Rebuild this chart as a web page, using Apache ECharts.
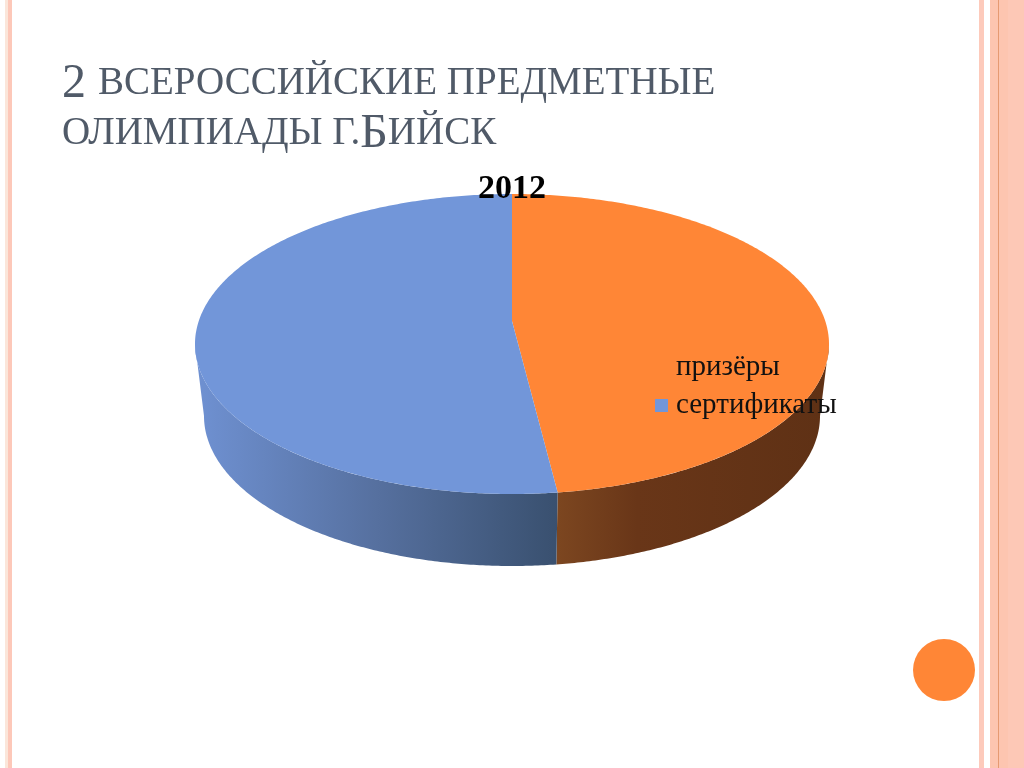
<!DOCTYPE html>
<html><head><meta charset="utf-8">
<style>html,body{margin:0;padding:0;background:#fff}#c{width:1024px;height:768px}</style>
<script src="https://cdn.jsdelivr.net/npm/echarts@6/dist/echarts.min.js"></script>
</head><body><div id="c"></div>
<script>
const categories = ['призёры', 'сертификаты'];
const values = [47.7, 52.3];
const colors = ['#ff8636', '#7296d9'];
const chartTitle = '2012';

const total = values.reduce((a, b) => a + b, 0);
const T = { cx: 512, cy: 344, rx: 317, ry: 150, hubY: 321 };
const B = { cx: 512, cy: 416, rx: 308, ry: 150 };
const pt = (e, t) => [e.cx + e.rx * Math.sin(t), e.cy - e.ry * Math.cos(t)];
function arc(e, a, b) {
  const n = Math.max(2, Math.ceil(Math.abs(b - a) / 0.01));
  const out = [];
  for (let i = 0; i <= n; i++) out.push(pt(e, a + (b - a) * i / n));
  return out;
}
const wallFill = [
  new echarts.graphic.LinearGradient(558, 0, 822, 0, [
    { offset: 0, color: '#7c4620' }, { offset: 0.3, color: '#693618' }, { offset: 1, color: '#5f3115' }
  ], true),
  new echarts.graphic.LinearGradient(196, 0, 558, 0, [
    { offset: 0, color: '#6f91d2' }, { offset: 0.5, color: '#56709f' }, { offset: 1, color: '#39506f' }
  ], true)
];
function sliceSeries(idx) {
  return {
    type: 'custom', name: categories[idx], coordinateSystem: 'none', silent: true,
    itemStyle: { color: colors[idx] }, z: 2 + idx,
    data: [values[idx]],
    renderItem: function () {
      let acc = 0;
      for (let i = 0; i < idx; i++) acc += values[i];
      const a = acc / total * 2 * Math.PI, b = (acc + values[idx]) / total * 2 * Math.PI;
      const wa = Math.max(a, Math.PI / 2), wb = Math.min(b, Math.PI * 1.5);
      const wall = arc(T, wa, wb).concat(arc(B, wb, wa));
      const top = [[T.cx, T.hubY]].concat(arc(T, a, b));
      return { type: 'group', children: [
        { type: 'polygon', shape: { points: wall }, style: { fill: wallFill[idx] } },
        { type: 'polygon', shape: { points: top }, style: { fill: colors[idx] } }
      ] };
    }
  };
}
const rect = (x, w, fill) => ({ type: 'rect', z: 0, shape: { x: x, y: 0, width: w, height: 768 }, style: { fill: fill } });
const chart = echarts.init(document.getElementById('c'), null, { renderer: 'canvas' });
chart.setOption({
  animation: false,
  backgroundColor: '#ffffff',
  title: [
    { text: '{a|2 }{b|ВСЕРОССИЙСКИЕ ПРЕДМЕТНЫЕ}\n{b|ОЛИМПИАДЫ Г.}{a|Б}{b|ИЙСК}', left: 57, top: 54,
      textStyle: { rich: {
        a: { fontFamily: 'Liberation Serif', fontWeight: 'normal', fontSize: 48, color: '#505a68', lineHeight: 50 },
        b: { fontFamily: 'Liberation Serif', fontWeight: 'normal', fontSize: 39, color: '#505a68', lineHeight: 50 }
      } } },
    { text: chartTitle, left: 'center', top: 167, z: 10,
      textStyle: { fontFamily: 'Liberation Serif', fontWeight: 'bold', fontSize: 34, color: '#000' } }
  ],
  legend: {
    orient: 'vertical', left: 650, top: 348, itemWidth: 13, itemHeight: 13, itemGap: 9, icon: 'rect',
    selectedMode: false, z: 10, data: categories,
    textStyle: { fontFamily: 'Liberation Serif', fontSize: 29, color: '#111', padding: [0, 0, 0, 3] }
  },
  graphic: { elements: [
    rect(5, 3, '#fbe6da'), rect(8, 4, '#fdc8b9'),
    rect(979, 5, '#fdcabb'), rect(990, 8, '#fdc5b0'), rect(998, 1, '#e69a72'),
    rect(999, 9, '#fdc5b0'), rect(1008, 16, '#fdc8b6'),
    { type: 'circle', z: 0, shape: { cx: 944, cy: 670, r: 31 }, style: { fill: '#ff8636' } }
  ] },
  series: [sliceSeries(0), sliceSeries(1)]
});
</script></body></html>
